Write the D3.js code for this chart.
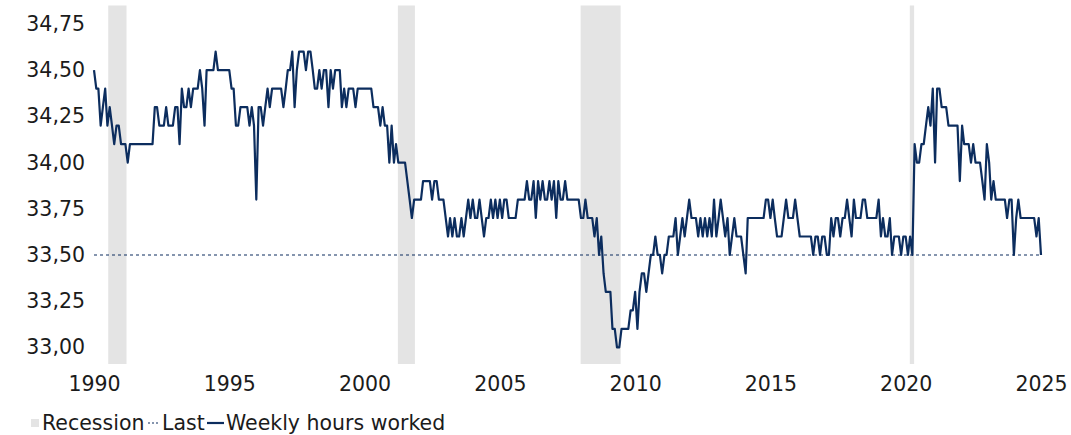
<!DOCTYPE html>
<html>
<head>
<meta charset="utf-8">
<script src="https://cdn.jsdelivr.net/npm/d3@7"></script>
<style>
  html, body { margin: 0; padding: 0; background: #ffffff; }
  svg text { font-family: "Century Gothic", "DejaVu Sans", sans-serif; fill: #1b1b1b; }
</style>
</head>
<body>
<svg id="chart" width="1071" height="435"></svg>
<script>
// Average weekly hours worked, monthly, starting January 1990
const firstYear = 1990;
const hours1990s = [
  34.5, 34.4, 34.4, 34.2, 34.3, 34.4, 34.2, 34.3, 34.2, 34.1, 34.2, 34.2,
  34.1, 34.1, 34.1, 34.0, 34.1, 34.1, 34.1, 34.1, 34.1, 34.1, 34.1, 34.1,
  34.1, 34.1, 34.1, 34.3, 34.3, 34.2, 34.2, 34.2, 34.3, 34.2, 34.2, 34.2,
  34.3, 34.3, 34.1, 34.4, 34.3, 34.3, 34.4, 34.3, 34.4, 34.4, 34.4, 34.5,
  34.4, 34.2, 34.5, 34.5, 34.5, 34.5, 34.6, 34.5, 34.5, 34.5, 34.5, 34.5,
  34.5, 34.4, 34.4, 34.2, 34.2, 34.3, 34.3, 34.3, 34.3, 34.2, 34.3, 34.2,
  33.8, 34.3, 34.3, 34.2, 34.3, 34.4, 34.3, 34.4, 34.4, 34.4, 34.4, 34.4,
  34.3, 34.4, 34.5, 34.5, 34.6, 34.3, 34.5, 34.6, 34.6, 34.6, 34.5, 34.6,
  34.6, 34.5, 34.4, 34.4, 34.5, 34.4, 34.5, 34.5, 34.3, 34.5, 34.4, 34.5,
  34.5, 34.5, 34.3, 34.4, 34.3, 34.4, 34.4, 34.4, 34.3, 34.4, 34.4, 34.4
];
const hours2000s = [
  34.4, 34.4, 34.4, 34.4, 34.3, 34.3, 34.3, 34.2, 34.3, 34.2, 34.2, 34.0,
  34.2, 34.0, 34.1, 34.0, 34.0, 34.0, 34.0, 33.9, 33.8, 33.7, 33.8, 33.8,
  33.8, 33.8, 33.9, 33.9, 33.9, 33.9, 33.8, 33.9, 33.9, 33.8, 33.8, 33.8,
  33.7, 33.6, 33.7, 33.6, 33.7, 33.6, 33.6, 33.7, 33.6, 33.7, 33.8, 33.7,
  33.8, 33.7, 33.7, 33.8, 33.7, 33.6, 33.7, 33.7, 33.8, 33.7, 33.8, 33.7,
  33.8, 33.7, 33.8, 33.8, 33.7, 33.7, 33.7, 33.7, 33.8, 33.8, 33.8, 33.8,
  33.9, 33.8, 33.8, 33.9, 33.7, 33.9, 33.8, 33.9, 33.8, 33.8, 33.9, 33.8,
  33.9, 33.7, 33.9, 33.8, 33.8, 33.9, 33.8, 33.8, 33.8, 33.8, 33.8, 33.8,
  33.7, 33.7, 33.8, 33.7, 33.7, 33.7, 33.6, 33.7, 33.5, 33.6, 33.4, 33.3,
  33.3, 33.3, 33.1, 33.1, 33.0, 33.0, 33.1, 33.1, 33.1, 33.1, 33.2, 33.2
];
const hours2010s = [
  33.3, 33.1, 33.3, 33.4, 33.4, 33.3, 33.4, 33.5, 33.5, 33.6, 33.5, 33.5,
  33.4, 33.5, 33.5, 33.6, 33.6, 33.6, 33.7, 33.5, 33.6, 33.7, 33.6, 33.7,
  33.8, 33.7, 33.7, 33.7, 33.6, 33.7, 33.6, 33.7, 33.6, 33.7, 33.6, 33.8,
  33.6, 33.7, 33.8, 33.7, 33.6, 33.7, 33.5, 33.6, 33.7, 33.6, 33.6, 33.6,
  33.5, 33.4, 33.7, 33.7, 33.7, 33.7, 33.7, 33.7, 33.7, 33.7, 33.8, 33.8,
  33.7, 33.8, 33.7, 33.6, 33.6, 33.6, 33.7, 33.8, 33.7, 33.7, 33.7, 33.8,
  33.7, 33.6, 33.6, 33.6, 33.6, 33.6, 33.6, 33.5, 33.6, 33.6, 33.5, 33.6,
  33.6, 33.5, 33.5, 33.7, 33.6, 33.7, 33.7, 33.6, 33.7, 33.7, 33.8, 33.7,
  33.6, 33.8, 33.7, 33.7, 33.7, 33.8, 33.8, 33.7, 33.7, 33.7, 33.7, 33.7,
  33.8, 33.6, 33.7, 33.6, 33.6, 33.7, 33.5, 33.6, 33.6, 33.6, 33.5, 33.6
];
const hours2020s = [
  33.6, 33.5, 33.6, 33.5, 34.1, 34.0, 34.0, 34.1, 34.1, 34.2, 34.3, 34.2,
  34.4, 34.0, 34.4, 34.4, 34.3, 34.3, 34.3, 34.2, 34.2, 34.2, 34.2, 34.2,
  33.9, 34.2, 34.1, 34.1, 34.1, 34.0, 34.1, 34.0, 34.0, 34.0, 33.9, 33.8,
  34.1, 34.0, 33.8, 33.9, 33.8, 33.8, 33.8, 33.8, 33.8, 33.7, 33.8, 33.8,
  33.5, 33.7, 33.8, 33.7, 33.7, 33.7, 33.7, 33.7, 33.7, 33.7, 33.6, 33.7,
  33.5
];

// Latest reading, drawn as the "Last" reference line
const lastValue = 33.5;

// Recession periods
const recessionStart = ["1990-07-12", "2001-03-26", "2007-12-27", "2020-02-26"];
const recessionEnd   = ["1991-03-16", "2001-11-11", "2009-06-19", "2020-04-24"];

// Axis ticks
const yTicks = [33.00, 33.25, 33.50, 33.75, 34.00, 34.25, 34.50, 34.75];
const xTickYears = [1990, 1995, 2000, 2005, 2010, 2015, 2020, 2025];

// Legend labels
const legendLabels = ["Recession", "Last", "Weekly hours worked"];

// ---------------------------------------------------------------
const svg = d3.select("#chart");
const lineColor = "#0c2d5e";
const bandColor = "#e4e4e4";
const fontStack = '"Century Gothic", "DejaVu Sans", sans-serif';

const hours = [].concat(hours1990s, hours2000s, hours2010s, hours2020s);
const series = hours.map((v, i) => ({ date: new Date(firstYear, i, 1), value: v }));

const plotLeft = 94, plotRight = 1041, plotTop = 5.5, plotBottom = 364;

const x = d3.scaleTime()
  .domain([new Date(1990, 0, 1), new Date(2025, 0, 1)])
  .range([plotLeft, plotRight]);

const y = d3.scaleLinear()
  .domain([32.91, 34.85])
  .range([plotBottom, plotTop]);

const parse = d3.timeParse("%Y-%m-%d");

// Recession shading, full plot height
svg.append("g")
  .selectAll("rect")
  .data(recessionStart.map((s, i) => ({ s: parse(s), e: parse(recessionEnd[i]) })))
  .join("rect")
  .attr("x", d => x(d.s))
  .attr("width", d => x(d.e) - x(d.s))
  .attr("y", y(34.85))
  .attr("height", y(32.91) - y(34.85))
  .attr("fill", bandColor);

// Y axis labels
const yAxis = d3.axisLeft(y)
  .tickValues(yTicks)
  .tickSize(0)
  .tickPadding(9)
  .tickFormat(d => d.toFixed(2).replace(".", ","));
const gy = svg.append("g")
  .attr("transform", `translate(${plotLeft},0)`)
  .call(yAxis);
gy.select(".domain").remove();
gy.selectAll("text")
  .style("font-family", fontStack)
  .style("font-size", "20.5px")
  .attr("fill", "#1b1b1b");

// X axis labels
const xAxis = d3.axisBottom(x)
  .tickValues(xTickYears.map(yr => new Date(yr, 0, 1)))
  .tickSize(0)
  .tickPadding(12.5)
  .tickFormat(d3.timeFormat("%Y"));
const gx = svg.append("g")
  .attr("transform", `translate(0,${plotBottom})`)
  .call(xAxis);
gx.select(".domain").remove();
gx.selectAll("text")
  .style("font-family", fontStack)
  .style("font-size", "20.5px")
  .attr("fill", "#1b1b1b");

// "Last" reference line
svg.append("line")
  .attr("x1", x(new Date(1990, 0, 1)))
  .attr("x2", x(series[series.length - 1].date))
  .attr("y1", y(lastValue))
  .attr("y2", y(lastValue))
  .attr("stroke", lineColor)
  .attr("stroke-width", 1.1)
  .attr("stroke-dasharray", "3,3");

// Weekly hours line
const line = d3.line()
  .x(d => x(d.date))
  .y(d => y(d.value));
svg.append("path")
  .datum(series)
  .attr("d", line)
  .attr("fill", "none")
  .attr("stroke", lineColor)
  .attr("stroke-width", 2.2)
  .attr("stroke-linejoin", "round");

// Legend
const lg = svg.append("g").attr("transform", "translate(0,423)");
lg.append("rect").attr("x", 31).attr("y", -4).attr("width", 8).attr("height", 8).attr("fill", bandColor);
lg.append("text").attr("x", 42).attr("dy", "0.36em").style("font-size", "20.5px").text(legendLabels[0]);
lg.append("line").attr("x1", 148).attr("x2", 160).attr("stroke", lineColor)
  .attr("stroke-width", 1.1).attr("stroke-dasharray", "2,2");
lg.append("text").attr("x", 162).attr("dy", "0.36em").style("font-size", "20.5px").text(legendLabels[1]);
lg.append("line").attr("x1", 207).attr("x2", 224).attr("stroke", lineColor).attr("stroke-width", 2.2);
lg.append("text").attr("x", 226).attr("dy", "0.36em").style("font-size", "20.5px").text(legendLabels[2]);
</script>
</body>
</html>
